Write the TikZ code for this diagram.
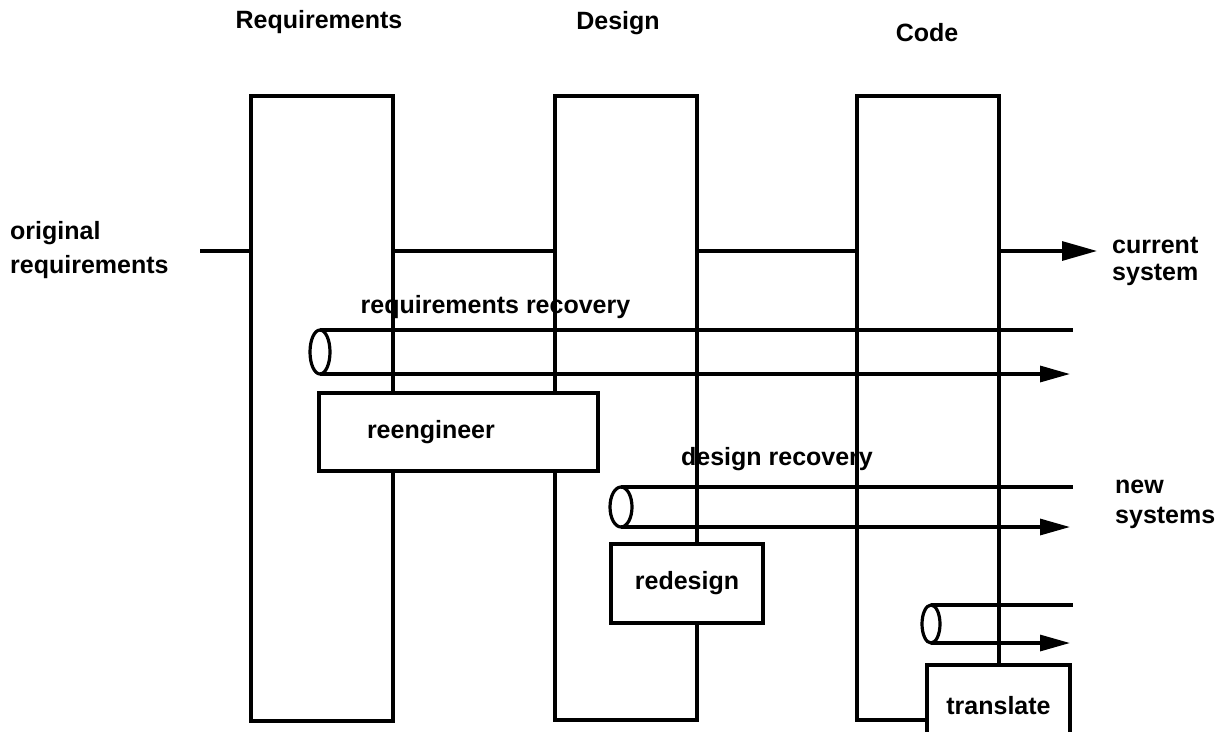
\documentclass[tikz,border=0pt]{standalone}
\usepackage{fontspec}
\setmainfont{Liberation Sans}
\usetikzlibrary{arrows.meta,shapes.geometric}
\tikzset{
  col/.style={draw, line width=3.2pt, rectangle, inner sep=0pt, outer sep=0pt, anchor=north west},
  procbox/.style={draw, fill=white, line width=3.2pt, rectangle, inner sep=0pt, outer sep=0pt, font=\bfseries\fontsize{25}{30}\selectfont},
  flow/.style={line width=3.2pt},
  bigarrow/.style={line width=3.2pt, -{Triangle[length=35pt,width=19pt]}},
  smallarrow/.style={line width=3.2pt, -{Triangle[length=30pt,width=16pt]}},
  pipeend/.style={draw, ellipse, line width=3.2pt, inner sep=0pt, outer sep=0pt},
  lbl/.style={inner sep=0pt, font=\bfseries\fontsize{25}{30}\selectfont}
}
\begin{document}
\begin{tikzpicture}[x=1pt,y=-1pt]
\clip (0,0) rectangle (1225,731);
% headers
\node[lbl, anchor=base] (hreq) at (319,28) {Requirements};
\node[lbl, anchor=base] (hdes) at (618,29) {Design};
\node[lbl, anchor=base] (hcod) at (927,41) {Code};
% columns
\node[col, minimum width=142pt, minimum height=625pt] (req) at (251,96) {};
\node[col, minimum width=142pt, minimum height=624pt] (des) at (555,96) {};
\node[col, minimum width=142pt, minimum height=624pt] (cod) at (857,96) {};
% main flow
\coordinate (orig) at (200,251);
\coordinate (cur) at (1097,251);
\draw[flow] (orig) -- (req.west |- orig);
\draw[flow] (req.east |- orig) -- (des.west |- orig);
\draw[flow] (des.east |- orig) -- (cod.west |- orig);
\draw[bigarrow] (cod.east |- orig) -- (cur);
% side labels
\node[lbl, anchor=base west, align=left, font=\bfseries\fontsize{25}{34}\selectfont] (lorig) at (10,273) {original\\requirements};
\node[lbl, anchor=base west, align=left, font=\bfseries\fontsize{25}{27}\selectfont] (lcur) at (1112,280) {current\\system};
\node[lbl, anchor=base west, align=left, font=\bfseries\fontsize{25}{30}\selectfont] (lnew) at (1115,523) {new\\systems};
% pipe 1: requirements recovery
\node[pipeend, minimum width=20pt, minimum height=44pt] (p1) at (320,352) {};
\coordinate (p1t) at (1073,330);
\coordinate (p1b) at (1070,374);
\draw[flow] (p1.north) -- (p1t |- p1.north);
\draw[smallarrow] (p1.south) -- (p1b |- p1.south);
\node[lbl, anchor=base] (lrr) at (495.5,313) {requirements recovery};
% pipe 2: design recovery
\node[pipeend, minimum width=22pt, minimum height=40pt] (p2) at (621,507) {};
\coordinate (p2t) at (1073,487);
\coordinate (p2b) at (1070,527);
\draw[flow] (p2.north) -- (p2t |- p2.north);
\draw[smallarrow] (p2.south) -- (p2b |- p2.south);
\node[lbl, anchor=base] (ldr) at (777,465) {design recovery};
% pipe 3
\node[pipeend, minimum width=18pt, minimum height=38pt] (p3) at (931,624) {};
\coordinate (p3t) at (1073,605);
\coordinate (p3b) at (1070,643);
\draw[flow] (p3.north) -- (p3t |- p3.north);
\draw[smallarrow] (p3.south) -- (p3b |- p3.south);
% process boxes
\node[procbox, minimum width=279pt, minimum height=78pt, text width=183pt, inner xsep=48pt, align=left] (reeng) at (458.5,432) {reengineer};
\node[procbox, minimum width=152pt, minimum height=79pt] (redes) at (687,583.5) {redesign};
\node[procbox, minimum width=143pt, minimum height=82pt, anchor=north west] (trans) at (927,665) {translate};
\end{tikzpicture}
\end{document}
